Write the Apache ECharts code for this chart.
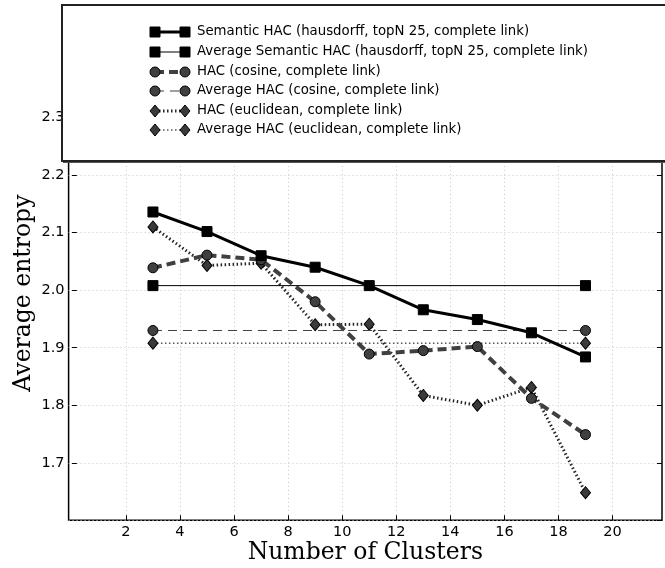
<!DOCTYPE html>
<html>
<head>
<meta charset="utf-8">
<title>Average entropy vs number of clusters</title>
<script src="https://cdn.jsdelivr.net/npm/echarts@6/dist/echarts.min.js"></script>
<style>
  html, body { margin: 0; padding: 0; background: #fff; }
  #chart { width: 665px; height: 568px; }
</style>
</head>
<body>
<div id="chart"></div>
<script>
// values
const clusters = [3, 5, 7, 9, 11, 13, 15, 17, 19];
const semanticHac = [2.136, 2.102, 2.060, 2.040, 2.008, 1.966, 1.949, 1.926, 1.884];
const semanticAvg = 2.008;
const cosineHac = [2.039, 2.061, 2.053, 1.980, 1.889, 1.895, 1.902, 1.812, 1.749];
const cosineAvg = 1.930;
const euclidHac = [2.110, 2.043, 2.047, 1.940, 1.941, 1.817, 1.800, 1.831, 1.648];
const euclidAvg = 1.908;
const avgRange = [3, 19];
const xTicks = [2, 4, 6, 8, 10, 12, 14, 16, 18, 20];

const names = [
  'Semantic HAC (hausdorff, topN 25, complete link)',
  'Average Semantic HAC (hausdorff, topN 25, complete link)',
  'HAC (cosine, complete link)',
  'Average HAC (cosine, complete link)',
  'HAC (euclidean, complete link)',
  'Average HAC (euclidean, complete link)'
];

const pairs = (ys) => clusters.map((x, i) => [x, ys[i]]);
const flat = (v) => avgRange.map(x => [x, v]);

// line / marker styles, shared by series and the hand drawn legend
const styles = [
  { line: { color: '#000', width: 3, type: 'solid' }, symbol: 'rect', size: 10, fill: '#000' },
  { line: { color: '#000', width: 1, type: 'solid' }, symbol: 'rect', size: 10, fill: '#000' },
  { line: { color: '#404040', width: 4, type: [9, 5] }, symbol: 'circle', size: 10, fill: '#404040' },
  { line: { color: '#404040', width: 1, type: [9, 6] }, symbol: 'circle', size: 10, fill: '#404040' },
  { line: { color: '#262626', width: 3, type: [1.5, 2.5] }, symbol: 'diamond', size: 12, fill: '#3a3a3a' },
  { line: { color: '#000', width: 1, type: [1.5, 2.5] }, symbol: 'diamond', size: 12, fill: '#3a3a3a' }
];
const seriesData = [
  pairs(semanticHac), flat(semanticAvg),
  pairs(cosineHac), flat(cosineAvg),
  pairs(euclidHac), flat(euclidAvg)
];

const tickFont = { color: '#000', fontFamily: 'DejaVu Sans', fontSize: 14.5 };
const titleFont = { color: '#000', fontFamily: 'DejaVu Serif', fontSize: 23.5 };
const gridLine = { show: true, lineStyle: { color: '#c8c8c8', width: 1, type: [1, 3] } };

// legend drawn by hand: two markers joined by the series line, like the original
function legendMarker(st, cx, cy) {
  const s = st.size, common = { z: 101, style: { fill: st.fill, stroke: '#000', lineWidth: 1 } };
  if (st.symbol === 'rect') {
    return Object.assign({ type: 'rect', shape: { x: cx - s / 2, y: cy - s / 2, width: s, height: s } }, common);
  }
  if (st.symbol === 'circle') {
    return Object.assign({ type: 'circle', shape: { cx: cx, cy: cy, r: s / 2 } }, common);
  }
  return Object.assign({ type: 'polygon', shape: { points: [[cx, cy - s / 2], [cx + s / 2.4, cy], [cx, cy + s / 2], [cx - s / 2.4, cy]] } }, common);
}

const legendRows = [32, 52, 72, 91, 111, 130];
const legendGraphics = [
  { type: 'rect', z: 99, shape: { x: 63, y: 7, width: 640, height: 156 }, style: { fill: '#555' } },
  { type: 'rect', z: 100, shape: { x: 62, y: 5, width: 640, height: 156 }, style: { fill: '#fff', stroke: '#222', lineWidth: 2 } }
];
names.forEach((name, i) => {
  const st = styles[i], y = legendRows[i];
  legendGraphics.push({
    type: 'line', z: 101,
    shape: { x1: 155, y1: y, x2: 185, y2: y },
    style: { stroke: st.line.color, lineWidth: st.line.width, lineDash: st.line.type === 'solid' ? null : st.line.type }
  });
  legendGraphics.push(legendMarker(st, 155, y));
  legendGraphics.push(legendMarker(st, 185, y));
  legendGraphics.push({
    type: 'text', z: 101, x: 197, y: y,
    style: { text: name, fill: '#000', font: '13.3px "DejaVu Sans"', verticalAlign: 'middle' }
  });
});

const option = {
  animation: false,
  backgroundColor: '#fff',
  grid: {
    left: 68.6, right: 3, top: 65.9, bottom: 47.7,
    outerBoundsMode: 'none',
    containLabel: false,
    show: true, borderColor: '#000', borderWidth: 1.5, backgroundColor: 'transparent'
  },
  xAxis: {
    type: 'value',
    min: -0.12,
    max: 21.83,
    name: 'Number of Clusters',
    nameLocation: 'middle',
    nameGap: 21,
    nameMoveOverlap: false,
    nameTextStyle: titleFont,
    axisLine: { show: false },
    axisTick: { show: true, inside: true, length: 5, customValues: xTicks, lineStyle: { color: '#000', width: 1 } },
    axisLabel: Object.assign({ margin: 4, customValues: xTicks }, tickFont),
    splitLine: gridLine
  },
  yAxis: [
    {
      type: 'value',
      min: 1.6,
      max: 2.39,
      interval: 0.1,
      name: 'Average entropy',
      nameLocation: 'middle',
      nameGap: 33,
      nameMoveOverlap: false,
      nameTextStyle: titleFont,
      axisLine: { show: false },
      axisTick: { show: true, inside: true, length: 5, lineStyle: { color: '#000', width: 1 } },
      axisLabel: Object.assign({
        margin: 4, showMinLabel: false, showMaxLabel: false,
        formatter: v => v.toFixed(1)
      }, tickFont),
      splitLine: gridLine
    },
    {
      type: 'value',
      position: 'right',
      min: 1.6,
      max: 2.39,
      interval: 0.1,
      axisLine: { show: false },
      axisTick: { show: true, inside: true, length: 5, lineStyle: { color: '#000', width: 1 } },
      axisLabel: { show: false },
      splitLine: { show: false }
    }
  ],
  series: names.map((name, i) => ({
    name: name,
    type: 'line',
    data: seriesData[i],
    symbol: styles[i].symbol,
    symbolSize: styles[i].symbol === 'diamond' ? [10, 12] : styles[i].size,
    showAllSymbol: true,
    lineStyle: styles[i].line,
    itemStyle: { color: styles[i].fill, borderColor: '#000', borderWidth: 1 },
    z: 10 - i
  })),
  graphic: legendGraphics
};

const chart = echarts.init(document.getElementById('chart'));
chart.setOption(option);
</script>
</body>
</html>
